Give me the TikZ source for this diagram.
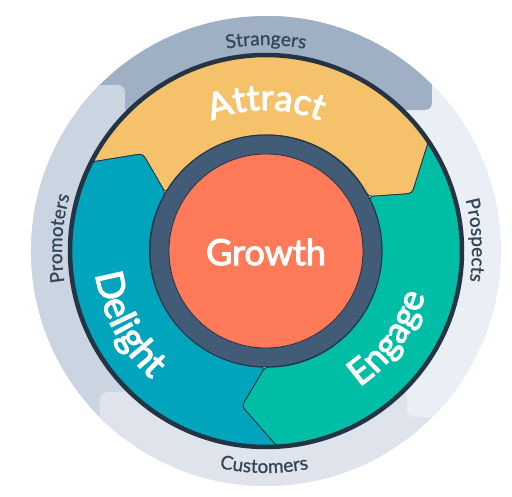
\documentclass[tikz,border=0pt]{standalone}
\usepackage{fontspec}
\setmainfont{Lato}
\newfontfamily\bigfam{Lato}[FakeBold=3]
\newfontfamily\ringfam{Lato}[FakeBold=1]
\usepackage{xcolor}
\usetikzlibrary{decorations.text}
\definecolor{attract}{HTML}{F5C26B}
\definecolor{engage}{HTML}{00BDA5}
\definecolor{delight}{HTML}{00A4BD}
\definecolor{growth}{HTML}{FF7A59}
\definecolor{slinky}{HTML}{425B76}
\definecolor{obsidian}{HTML}{243445}
\definecolor{strangers}{HTML}{9FB0C5}
\definecolor{prospects}{HTML}{EAEFF6}
\definecolor{customers}{HTML}{DFE3EC}
\definecolor{promoters}{HTML}{CBD5E2}
\definecolor{ringtext}{HTML}{33475B}
\newcommand\bigfont{\fontsize{36}{36}\bigfam}
\newcommand\delightfont{\fontsize{38}{38}\bigfam}
\newcommand\ringfont{\fontsize{19}{19}\ringfam}

\begin{document}
\begin{tikzpicture}[x=1pt, y=1pt,
  band/.style={rounded corners=7pt},
  piece/.style={draw=obsidian, line width=0.8pt, rounded corners=4pt},
  bigword/.style 2 args={decorate, decoration={text along path, text align=center, text color=white, text={|#1|#2}}},
  ringword/.style={decorate, decoration={text along path, text align=center, text color=ringtext, text={|\ringfont|#1}}}]
\useasboundingbox (-266,-245) rectangle (246,251);
\begin{scope}
\clip (0,0) circle[radius=235];
\fill[customers] (0,0) circle[radius=235];
\fill[strangers, band] (-300,141) rectangle (166,300);
\fill[promoters, band] (-300,-300) rectangle (-141,166);
\fill[customers, band] (-166,-300) rectangle (300,-141);
\fill[prospects, band] (141,-166) rectangle (300,300);
\fill[strangers, band] (0,141) rectangle (166,300);
\end{scope}
\filldraw[piece, fill=attract] (153:196) arc[start angle=153, end angle=34, radius=196] -- (21.5:157) -- (28:116)
  arc[start angle=28, end angle=150, radius=116] -- (141.7:157) -- cycle;
\filldraw[piece, fill=engage] (34:196) arc[start angle=34, end angle=-86.7, radius=196] -- (-98.9:157) -- (-90.5:116)
  arc[start angle=-90.5, end angle=28, radius=116] -- (21.5:157) -- cycle;
\filldraw[piece, fill=delight] (273.3:196) arc[start angle=273.3, end angle=153, radius=196] -- (141.7:157) -- (150:116)
  arc[start angle=150, end angle=269.5, radius=116] -- (261.1:157) -- cycle;
\draw[obsidian, line width=4.5pt] (0,0) circle[radius=196];
\filldraw[fill=slinky, draw=obsidian, line width=1pt] (0,0) circle[radius=116];
\filldraw[fill=growth, draw=obsidian, line width=0.8pt] (0,0) circle[radius=97];
\node[font=\bigfont, text=white] (growth) at (0,-1) {Growth};
\path[bigword={\bigfont}{Attract}] (130:141) arc[start angle=130, end angle=50, radius=141];
\path[bigword={\delightfont}{Delight}] (161:172) arc[start angle=161, end angle=255, radius=172];
\path[bigword={\bigfont}{Engage}] (-80:165) arc[start angle=-80, end angle=9, radius=165];
\path[ringword=Strangers] (125:206) arc[start angle=125, end angle=55, radius=206];
\path[ringword=Prospects] (38:206) arc[start angle=38, end angle=-32, radius=206];
\path[ringword=Customers] (-125.5:222) arc[start angle=-125.5, end angle=-55.5, radius=222];
\path[ringword=Promoters] (211.5:204) arc[start angle=211.5, end angle=141.5, radius=204];
\end{tikzpicture}
\end{document}
